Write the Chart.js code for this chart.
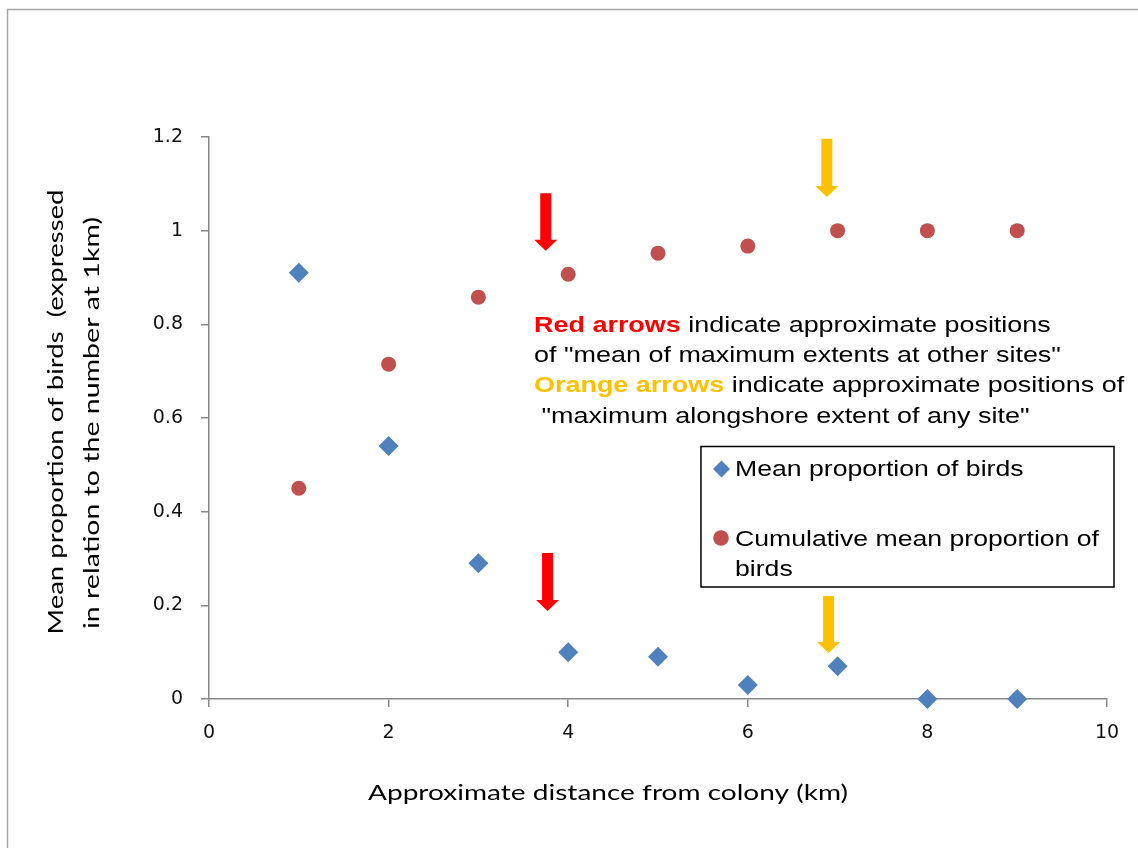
<!DOCTYPE html>
<html>
<head>
<meta charset="utf-8">
<script src="https://cdn.jsdelivr.net/npm/chart.js@4"></script>
<style>
  html, body { margin: 0; padding: 0; background: #fff; }
  #wrap { width: 1138px; height: 848px; }
</style>
</head>
<body>
<div id="wrap"><canvas id="chart" width="1138" height="848"></canvas></div>
<script>
// values
const distanceKm = [1, 2, 3, 4, 5, 6, 7, 8, 9];
const meanProportion = [0.91, 0.54, 0.29, 0.10, 0.09, 0.03, 0.07, 0, 0];
const cumulativeProportion = [0.45, 0.715, 0.858, 0.907, 0.952, 0.967, 1, 1, 1];
const xTicks = [0, 2, 4, 6, 8, 10];
const yTicks = [0, 0.2, 0.4, 0.6, 0.8, 1, 1.2];
const yTickLabels = ['0', '0.2', '0.4', '0.6', '0.8', '1', '1.2'];
const seriesNames = ['Mean proportion of birds', 'Cumulative mean proportion of', 'birds'];

// arrows in data units: x position, top of shaft, tip
const arrowKm = [3.75, 3.77, 6.88, 6.90];
const arrowTop = [1.08, 0.312, 1.196, 0.220];
const arrowTip = [0.957, 0.188, 1.072, 0.098];
const arrowColour = ['#ff0000', '#ff0000', '#ffc000', '#ffc000'];

const BLUE = '#4f81bd';
const RED = '#c0504d';
const ARIAL = '"Liberation Sans", Arial, sans-serif';
const CALIBRI = 'Lato, "Open Sans", sans-serif';
const STRETCH = 1.21;   // text in the picture is drawn wide
const NOTE_STRETCH = 1.225;

function wideText(ctx, str, x, y, sx) {
    ctx.save();
    ctx.translate(x, y);
    ctx.scale(sx, 1);
    ctx.fillText(str, 0, 0);
    ctx.restore();
    return ctx.measureText(str).width * sx;
}

// text fitted to a width, optionally rotated
function fitText(ctx, str, cx, cy, width, rotate) {
    const w = ctx.measureText(str).width;
    ctx.save();
    ctx.translate(cx, cy);
    if (rotate) ctx.rotate(-Math.PI / 2);
    ctx.scale(width / w, 1);
    ctx.textAlign = 'center';
    ctx.textBaseline = 'middle';
    ctx.fillText(str, 0, 0);
    ctx.restore();
}

const decorPlugin = {
    id: 'decor',
    beforeDraw(chart) {
        const ctx = chart.ctx;
        ctx.save();
        ctx.fillStyle = '#fff';
        ctx.fillRect(0, 0, chart.width, chart.height);
        // outer frame
        ctx.strokeStyle = '#a6a6a6';
        ctx.lineWidth = 1.5;
        ctx.beginPath();
        ctx.moveTo(7.5, chart.height + 2);
        ctx.lineTo(7.5, 9.5);
        ctx.lineTo(chart.width + 2, 9.5);
        ctx.stroke();
        ctx.restore();
    },
    afterDatasetsDraw(chart) {
        const ctx = chart.ctx;
        const xs = chart.scales.x, ys = chart.scales.y;
        ctx.save();
        arrowKm.forEach((km, i) => {
            const x = xs.getPixelForValue(km);
            const top = ys.getPixelForValue(arrowTop[i]);
            const tip = ys.getPixelForValue(arrowTip[i]);
            const neck = tip - 11;
            ctx.fillStyle = arrowColour[i];
            ctx.beginPath();
            ctx.moveTo(x - 5.5, top);
            ctx.lineTo(x + 5.5, top);
            ctx.lineTo(x + 5.5, neck);
            ctx.lineTo(x + 11.5, neck);
            ctx.lineTo(x, tip);
            ctx.lineTo(x - 11.5, neck);
            ctx.lineTo(x - 5.5, neck);
            ctx.closePath();
            ctx.fill();
        });
        ctx.restore();
    },
    afterDraw(chart) {
        const ctx = chart.ctx;
        ctx.save();
        ctx.textBaseline = 'alphabetic';
        ctx.textAlign = 'left';

        // note text
        const bold = 'bold 22px ' + ARIAL, normal = '22px ' + ARIAL;
        let x = 534;
        ctx.font = bold; ctx.fillStyle = '#ff0000';
        x += wideText(ctx, 'Red arrows', x, 332, NOTE_STRETCH);
        ctx.font = normal; ctx.fillStyle = '#000';
        wideText(ctx, ' indicate approximate positions', x, 332, NOTE_STRETCH);
        wideText(ctx, 'of "mean of maximum extents at other sites"', 534, 362, NOTE_STRETCH);
        x = 534;
        ctx.font = bold; ctx.fillStyle = '#ffc000';
        x += wideText(ctx, 'Orange arrows', x, 392, NOTE_STRETCH);
        ctx.font = normal; ctx.fillStyle = '#000';
        wideText(ctx, ' indicate approximate positions of', x, 392, NOTE_STRETCH);
        wideText(ctx, ' "maximum alongshore extent of any site"', 534, 423, NOTE_STRETCH);

        // legend box
        ctx.strokeStyle = '#000';
        ctx.lineWidth = 1.5;
        ctx.strokeRect(701, 446.5, 413, 140.5);
        ctx.fillStyle = BLUE;
        ctx.beginPath();
        ctx.moveTo(721.5, 460.5);
        ctx.lineTo(730, 469);
        ctx.lineTo(721.5, 477.5);
        ctx.lineTo(713, 469);
        ctx.closePath();
        ctx.fill();
        ctx.fillStyle = RED;
        ctx.beginPath();
        ctx.arc(721, 538, 7.8, 0, Math.PI * 2);
        ctx.fill();
        ctx.fillStyle = '#000';
        ctx.font = normal;
        wideText(ctx, seriesNames[0], 735, 476, STRETCH);
        wideText(ctx, seriesNames[1], 735, 546, STRETCH);
        wideText(ctx, seriesNames[2], 735, 576, STRETCH);

        // axis titles
        ctx.fillStyle = '#000';
        ctx.font = '21px ' + CALIBRI;
        fitText(ctx, 'Approximate distance from colony (km)', 608, 793, 480, false);
        fitText(ctx, 'Mean proportion of birds  (expressed', 56, 412, 445, true);
        fitText(ctx, 'in relation to the number at 1km)', 92, 423, 412, true);
        ctx.restore();
    }
};

const axisGrey = '#888888';
const tickFont = { family: '"DejaVu Sans", sans-serif', size: 19 };

new Chart(document.getElementById('chart'), {
    type: 'scatter',
    data: {
        datasets: [{
            label: seriesNames[0],
            data: distanceKm.map((d, i) => ({ x: d, y: meanProportion[i] })),
            pointStyle: 'rectRot',
            pointRadius: 10,
            backgroundColor: BLUE,
            borderColor: BLUE,
            borderWidth: 0,
            clip: false
        }, {
            label: seriesNames[1] + ' ' + seriesNames[2],
            data: distanceKm.map((d, i) => ({ x: d, y: cumulativeProportion[i] })),
            pointStyle: 'circle',
            pointRadius: 7.5,
            backgroundColor: RED,
            borderColor: RED,
            borderWidth: 0,
            clip: false
        }]
    },
    options: {
        responsive: false,
        animation: false,
        devicePixelRatio: 1,
        layout: { padding: { left: 0, top: 137, right: 31, bottom: 0 } },
        plugins: {
            legend: { display: false },
            tooltip: { enabled: false }
        },
        scales: {
            x: {
                type: 'linear',
                min: 0,
                max: 10,
                afterBuildTicks: scale => { scale.ticks = xTicks.map(v => ({ value: v })); },
                afterFit: scale => { scale.height = 149; },
                ticks: { font: tickFont, color: '#111', padding: 15, maxRotation: 0 },
                grid: { drawOnChartArea: false, drawTicks: true, tickLength: 8, color: axisGrey, lineWidth: 1.5 },
                border: { color: axisGrey, width: 1.5 }
            },
            y: {
                type: 'linear',
                min: 0,
                max: 1.2,
                afterBuildTicks: scale => { scale.ticks = yTicks.map(v => ({ value: v })); },
                afterFit: scale => { scale.width = 209; },
                ticks: {
                    font: tickFont,
                    color: '#111',
                    padding: 18,
                    callback: (v, i) => yTickLabels[i]
                },
                grid: { drawOnChartArea: false, drawTicks: true, tickLength: 8, color: axisGrey, lineWidth: 1.5 },
                border: { color: axisGrey, width: 1.5 }
            }
        }
    },
    plugins: [decorPlugin]
});
</script>
</body>
</html>
